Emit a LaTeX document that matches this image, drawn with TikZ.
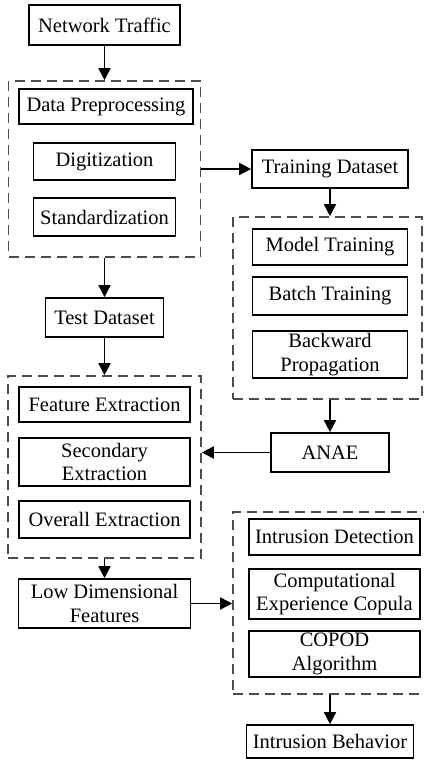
\documentclass[tikz,border=0pt]{standalone}
\usepackage{fontspec}
\setmainfont{Liberation Serif}
\usetikzlibrary{arrows.meta}

\begin{document}
\begin{tikzpicture}[x=1pt,y=-1pt,
  font=\fontsize{20.5}{23.5}\selectfont,
  box/.style={draw=black, line width=1.7pt, inner sep=0pt, align=center,
              minimum width=#1},
  group/.style={draw=black!70, line width=1.6pt, dash pattern=on 10pt off 6pt,
                inner sep=0pt},
  arr/.style={draw=black, line width=1.7pt, -{Triangle[length=12pt,width=12pt]}}
]
\useasboundingbox (0,0) rectangle (423,760);

% left column
\node[box=151pt, minimum height=40pt] (nt) at (104.5,25) {Network Traffic};

\node[group, minimum width=192pt, minimum height=176pt] (g1) at (104.5,169) {};
\node[box=174pt, minimum height=35pt] (dp)  at (106,106.5) {Data Preprocessing};
\node[box=142pt, minimum height=37pt] (dig) at (104.5,161.5) {Digitization};
\node[box=142pt, minimum height=38pt] (std) at (104.5,217) {Standardization};

\node[box=118pt, minimum height=39pt] (test) at (104.5,317.5) {Test Dataset};

\node[group, minimum width=193pt, minimum height=182pt] (g3) at (104.5,467) {};
\node[box=171pt, minimum height=35pt] (fe) at (104.5,404.5) {Feature Extraction};
\node[box=171pt, minimum height=48pt] (se) at (104.5,462) {Secondary\\Extraction};
\node[box=171pt, minimum height=37pt] (oe) at (104.5,519.5) {Overall Extraction};

\node[box=172pt, minimum height=49pt] (ldf) at (104.5,603.5) {Low Dimensional\\Features};

% right column
\node[box=156pt, minimum height=38pt] (td) at (330,169) {Training Dataset};

\node[group, minimum width=189pt, minimum height=182pt] (g2) at (327.5,308) {};
\node[box=155pt, minimum height=36pt] (mt) at (330,247) {Model Training};
\node[box=155pt, minimum height=38pt] (bt) at (330,296) {Batch Training};
\node[box=155pt, minimum height=47pt] (bp) at (330,354.5) {Backward\\Propagation};

\node[box=118pt, minimum height=39pt] (anae) at (330,452.5) {ANAE};

\node[group, minimum width=201pt, minimum height=182pt] (g4) at (333.5,603) {};
\node[box=171pt, minimum height=36pt] (id)    at (334.5,537) {Intrusion Detection};
\node[box=171pt, minimum height=50pt] (cec)   at (334.5,594) {Computational\\Experience Copula};
\node[box=171pt, minimum height=46pt] (copod) at (334.5,654) {COPOD\\Algorithm};

\node[box=167pt, minimum height=33pt] (ib) at (330,741.5) {Intrusion Behavior};

% connectors
\draw[arr] (nt.south) -- (nt.south |- g1.north);
\draw[arr] (g1.east) -- (td.west);
\draw[arr] (td.south) -- (td.south |- g2.north);
\draw[arr] (g1.south) -- (test.north);
\draw[arr] (test.south) -- (g3.north);
\draw[arr] (anae.north |- g2.south) -- (anae.north);
\draw[arr] (anae.west) -- (anae.west -| g3.east);
\draw[arr] (ldf.north |- g3.south) -- (ldf.north);
\draw[arr] (ldf.east) -- (ldf.east -| g4.west);
\draw[arr] (ib.north |- g4.south) -- (ib.north);
\end{tikzpicture}
\end{document}
